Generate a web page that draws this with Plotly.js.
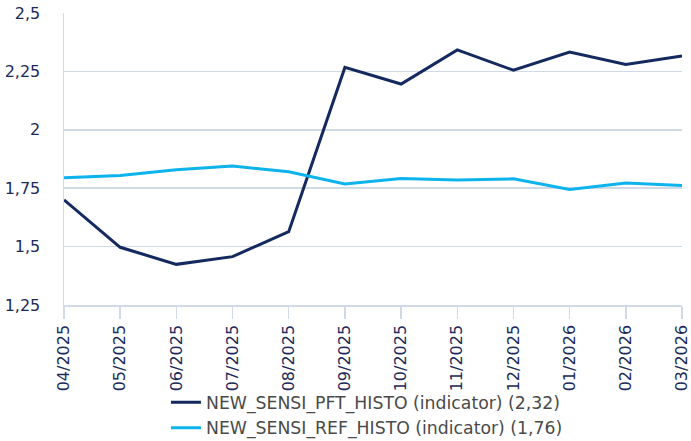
<!DOCTYPE html>
<html>
<head>
<meta charset="utf-8">
<script src="https://cdn.plot.ly/plotly-3.0.1.min.js"></script>
<style>html,body{margin:0;padding:0;background:#fff;}#chart{width:691px;height:441px;}</style>
</head>
<body>
<div id="chart"></div>
<script>
const months = ["04/2025","05/2025","06/2025","07/2025","08/2025","09/2025","10/2025","11/2025","12/2025","01/2026","02/2026","03/2026"];
const pftValues = [1.70, 1.497, 1.424, 1.457, 1.564, 2.267, 2.196, 2.342, 2.255, 2.333, 2.280, 2.316];
const refValues = [1.795, 1.804, 1.829, 1.845, 1.820, 1.768, 1.792, 1.785, 1.790, 1.745, 1.772, 1.762];
const yTickVals = [1.25, 1.5, 1.75, 2, 2.25, 2.5];
const yTickText = ["1,25", "1,5", "1,75", "2", "2,25", "2,5"];
const pftName = "NEW_SENSI_PFT_HISTO (indicator) (2,32)";
const refName = "NEW_SENSI_REF_HISTO (indicator) (1,76)";

const textColor = "#1b2a5a";
const gridColor = "#d0d9e6";

const traces = [
  {x: months, y: pftValues, name: pftName, type: "scatter", mode: "lines",
   line: {color: "#14295e", width: 3}},
  {x: months, y: refValues, name: refName, type: "scatter", mode: "lines",
   line: {color: "#0db3ec", width: 3}}
];

const layout = {
  width: 691, height: 441,
  margin: {l: 64, r: 9, t: 13, b: 136, autoexpand: false},
  paper_bgcolor: "#fff", plot_bgcolor: "#fff",
  font: {family: "DejaVu Sans, Verdana, sans-serif", size: 16, color: textColor},
  showlegend: true,
  legend: {orientation: "v", x: 0.165, xanchor: "left",
           y: -0.272, yanchor: "top",
           font: {size: 17.3, color: "#4a4a4a"}, itemwidth: 30, tracegroupgap: 0,
           bgcolor: "rgba(0,0,0,0)"},
  xaxis: {type: "category", range: [0, 11], tickmode: "array", tickvals: months, ticktext: months,
          showgrid: false, showline: true, automargin: false,
          linecolor: gridColor, linewidth: 1.5, ticks: "outside", ticklen: 12,
          tickcolor: gridColor, tickwidth: 1.5, tickangle: -90, zeroline: false,
          tickfont: {size: 16, color: textColor}},
  yaxis: {range: [1.25, 2.5], tickvals: yTickVals, ticktext: yTickText, automargin: false,
          showgrid: true, gridcolor: gridColor, gridwidth: 1.5, showline: true,
          linecolor: gridColor, linewidth: 1.5, zeroline: false, ticks: "",
          ticklabelstandoff: 19, tickfont: {size: 16, color: textColor}}
};

Plotly.newPlot("chart", traces, layout, {displayModeBar: false, staticPlot: true});
</script>
</body>
</html>
